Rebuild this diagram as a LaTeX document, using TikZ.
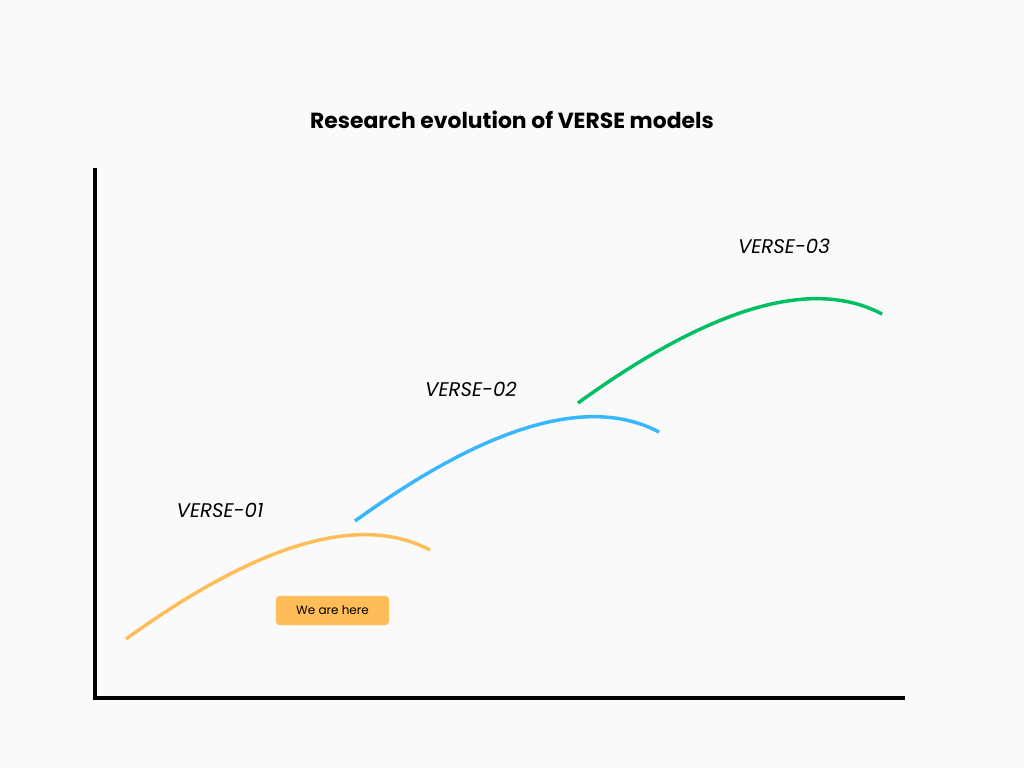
\documentclass[tikz,border=0pt]{standalone}
\usepackage{fontspec}
\setmainfont{Poppins}
\usetikzlibrary{positioning, calc}
\definecolor{bgcanvas}{RGB}{250,250,250}
\definecolor{verseorange}{RGB}{255,189,89}
\definecolor{verseblue}{RGB}{56,182,255}
\definecolor{versegreen}{RGB}{0,191,99}

\begin{document}
\begin{tikzpicture}[x=0.75pt, y=-0.75pt,
    axis/.style={line width=3pt},
    arc/.style={line width=2.6pt},
    versename/.style={font=\itshape\fontsize{14.8}{17}\selectfont},
    herebox/.style={fill=verseorange, rounded corners=3pt, minimum width=85pt, minimum height=22pt, inner sep=0pt, font=\fontsize{9}{11}\selectfont}]
    \fill[bgcanvas] (0,0) rectangle (1024,768);

    \node[font=\bfseries\fontsize{16.4}{19}\selectfont] (title) at (512,120) {Research evolution of VERSE models};

    % axes
    \coordinate (ytop) at (95,168);
    \coordinate (origin) at (95,698);
    \coordinate (xend) at (905,698);
    \draw[axis] (ytop) -- (origin) -- (xend);

    % one arc per model, shifted up the chart
    \foreach \col/\dx/\dy in {verseorange/0/0, verseblue/229/-118, versegreen/452/-236}
        \draw[arc, \col, shift={(\dx,\dy)}] (126,639) .. controls (259,543) and (360,513) .. (430,550);

    \node[versename] (v01) at (220,510) {VERSE-01};
    \node[versename] (v02) at (471,389) {VERSE-02};
    \node[versename] (v03) at (784,246) {VERSE-03};

    \node[herebox] (here) at (332.5,610.5) {We are here};
\end{tikzpicture}
\end{document}
